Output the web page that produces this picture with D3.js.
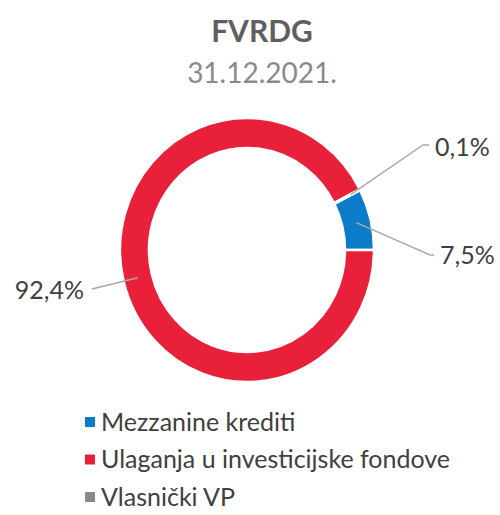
<!DOCTYPE html>
<html lang="en">
<head>
    <meta charset="UTF-8">
    <title>FVRDG 31.12.2021.</title>
    <script src="https://d3js.org/d3.v7.min.js"></script>
    <style>
        body { margin: 0; background: #fff; }
        svg { display: block; font-family: 'Lato', 'Open Sans', sans-serif; }
    </style>
</head>
<body>
<div id="chart"></div>
<script>
    // data
    var categories = ["Mezzanine krediti", "Ulaganja u investicijske fondove", "Vlasnički VP"];
    var values = [7.5, 92.4, 0.1];
    var valueLabels = ["7,5%", "92,4%", "0,1%"];
    var colors = ["#0b7cc7", "#e9203a", "#8a8a8a"];
    var title = "FVRDG";
    var subtitle = "31.12.2021.";

    var width = 500, height = 515;
    var cx = 247, cy = 250;
    var outerR = 127, innerR = 98, sy = 1.04;

    var svg = d3.select('#chart').append('svg')
        .attr('width', width)
        .attr('height', height);

    // title
    svg.append('text')
        .attr('x', 262).attr('y', 42)
        .attr('text-anchor', 'middle')
        .style('font-size', '30px')
        .style('font-weight', 'bold')
        .style('fill', '#5f5f5f')
        .text(title);

    svg.append('text')
        .attr('x', 262).attr('y', 83)
        .attr('text-anchor', 'middle')
        .style('font-size', '28px')
        .style('fill', '#8a8a8a')
        .text(subtitle);

    // donut, first slice starts at 63 degrees like the original
    var start = 63 * Math.PI / 180;
    var pie = d3.pie().sort(null).startAngle(start).endAngle(start + 2 * Math.PI);
    var arcs = pie(values);
    var arc = d3.arc().innerRadius(innerR).outerRadius(outerR);

    var g = svg.append('g')
        .attr('transform', 'translate(' + cx + ',' + cy + ') scale(1,' + sy + ')');

    g.selectAll('path')
        .data(arcs)
        .enter().append('path')
        .attr('d', arc)
        .attr('fill', (d, i) => colors[i])
        .attr('stroke', '#fff')
        .attr('stroke-width', 2.5);

    // data labels with leader lines (label spots as placed in the original)
    var labelSpots = [
        { elbow: [430, 255], text: [440, 255], anchor: 'start' },
        { elbow: [92, 289], text: [84, 290], anchor: 'end' },
        { elbow: [423, 145], text: [435, 147], anchor: 'start' }
    ];

    function ringPoint(a, r) {
        return [cx + r * Math.sin(a), cy - r * Math.cos(a) * sy];
    }

    arcs.forEach(function(d, i) {
        var mid = (d.startAngle + d.endAngle) / 2;
        var p0 = ringPoint(mid, (innerR + outerR) / 2 + (i === 2 ? 4 : 0));
        var s = labelSpots[i];
        var pts = [p0, s.elbow];
        if (s.anchor === 'start') pts.push([s.text[0] - 6, s.elbow[1]]);
        svg.append('path')
            .attr('d', d3.line()(pts))
            .attr('fill', 'none')
            .attr('stroke', '#a9a9a9')
            .attr('stroke-width', 1.5);
        svg.append('text')
            .attr('x', s.text[0]).attr('y', s.text[1])
            .attr('dy', '0.35em')
            .attr('text-anchor', s.anchor)
            .style('font-size', '25px')
            .style('fill', '#404040')
            .text(valueLabels[i]);
    });

    // legend
    var legend = svg.selectAll('.legend')
        .data(categories)
        .enter().append('g')
        .attr('class', 'legend')
        .attr('transform', (d, i) => 'translate(85,' + (422 + i * 37.5) + ')');

    legend.append('rect')
        .attr('x', 0).attr('y', -5)
        .attr('width', 10).attr('height', 10)
        .attr('fill', (d, i) => colors[i]);

    legend.append('text')
        .attr('x', 16)
        .attr('dy', '0.35em')
        .style('font-size', '25px')
        .style('fill', '#404040')
        .text(d => d);
</script>
</body>
</html>
